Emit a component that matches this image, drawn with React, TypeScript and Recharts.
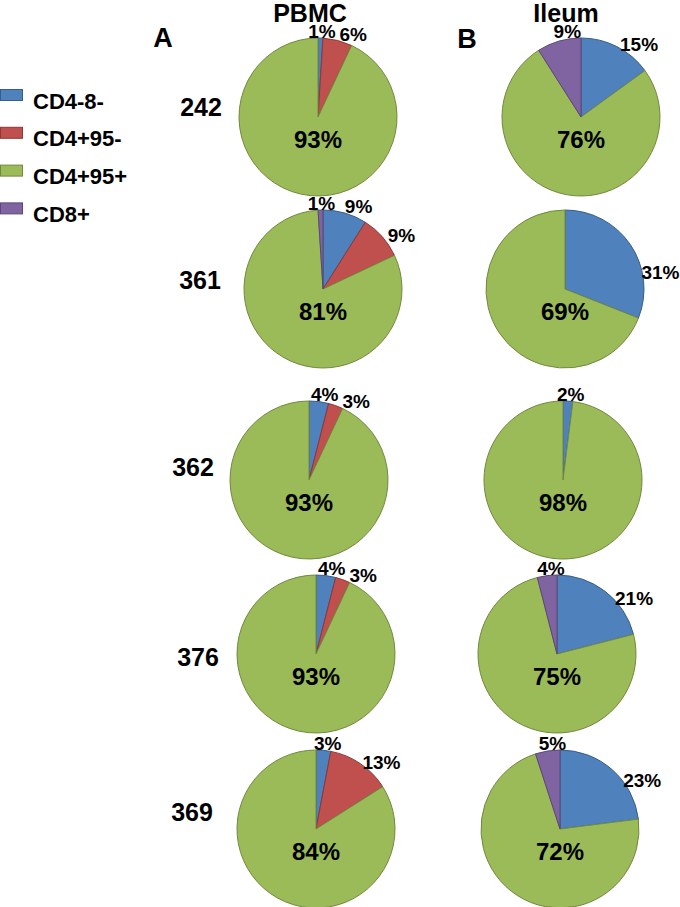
import React from "react";
import { PieChart, Pie, Cell } from "recharts";

const categories = ["CD4-8-", "CD4+95-", "CD4+95+", "CD8+"];
const animals = ["242", "361", "362", "376", "369"];

// PBMC (panel A), percent per animal
const pbmcCd48 = [1, 9, 4, 4, 3];
const pbmcCd4_95neg = [6, 9, 3, 3, 13];
const pbmcCd4_95pos = [93, 81, 93, 93, 84];
const pbmcCd8 = [0, 1, 0, 0, 0];

// Ileum (panel B)
const ileumCd48 = [15, 31, 2, 21, 23];
const ileumCd4_95neg = [0, 0, 0, 0, 0];
const ileumCd4_95pos = [76, 69, 98, 75, 72];
const ileumCd8 = [9, 0, 0, 4, 5];

const fills: Record<string, string> = {
  "CD4-8-": "#4F81BD",
  "CD4+95-": "#C0504D",
  "CD4+95+": "#9BBB59",
  "CD8+": "#8064A2",
};
const borders: Record<string, string> = {
  "CD4-8-": "#385D8A",
  "CD4+95-": "#8C3836",
  "CD4+95+": "#71893F",
  "CD8+": "#5C4776",
};

// layout
const W = 680;
const H = 907;
const R = 79;
const pbmcCx = [318, 323, 309, 316, 316];
const ileumCx = [581, 565, 563, 557, 560];
const rowCy = [117, 289, 480, 654, 829];
const rowLabelX = [201, 200, 193, 198, 192];
const rowLabelY = [107, 280, 467, 657, 812];
const FONT = "'Liberation Sans', Arial, sans-serif";
const LABEL_SIZE = 19;

type Slice = { name: string; value: number };

function sliceData(cols: number[][], row: number): Slice[] {
  return categories
    .map((name, i) => ({ name, value: cols[i][row] }))
    .filter((d) => d.value > 0);
}

const pbmcCols = [pbmcCd48, pbmcCd4_95neg, pbmcCd4_95pos, pbmcCd8];
const ileumCols = [ileumCd48, ileumCd4_95neg, ileumCd4_95pos, ileumCd8];

const textWidth = (v: number) => String(v).length * 10.6 + 16.9;

// outside label spots (relative to pie centre), nudged clockwise so they don't collide
function placeLabels(data: Slice[]) {
  const total = data.reduce((a, d) => a + d.value, 0);
  let cum = 0;
  const items: { name: string; w: number; t: number; x: number; y: number }[] = [];
  data.forEach((d) => {
    const s = (cum / total) * 360;
    cum += d.value;
    const e = (cum / total) * 360;
    if (d.name === "CD4+95+") return;
    let t = s + 0.72 * (e - s);
    if (t > 270) t -= 360;
    items.push({ name: d.name, w: textWidth(d.value), t, x: 0, y: 0 });
  });
  items.sort((a, b) => a.t - b.t);
  const pos = (t: number) => {
    const r = (t * Math.PI) / 180;
    const dist = R + 6 + 12 * Math.abs(Math.sin(r));
    return { x: dist * Math.sin(r), y: -dist * Math.cos(r) };
  };
  items.forEach((it, i) => {
    let p = pos(it.t);
    if (i > 0) {
      const prev = items[i - 1];
      let n = 0;
      while (
        Math.abs(p.x - prev.x) < (it.w + prev.w) / 2 + 3 &&
        Math.abs(p.y - prev.y) < 18 &&
        n < 90
      ) {
        it.t += 1;
        p = pos(it.t);
        n++;
      }
    }
    it.x = p.x;
    it.y = p.y;
  });
  const map: Record<string, { x: number; y: number }> = {};
  items.forEach((it) => (map[it.name] = { x: it.x, y: it.y }));
  return map;
}

const makeLabel = (spots: Record<string, { x: number; y: number }>) => (props: any) => {
  const { cx, cy, value } = props;
  const name = props.name ?? props.payload?.name;
  const common = {
    textAnchor: "middle" as const,
    dominantBaseline: "central" as const,
    fontWeight: "bold",
    fontFamily: FONT,
    fill: "#000",
  };
  if (name === "CD4+95+") {
    return (
      <text x={cx} y={cy + 22} fontSize={24} {...common}>
        {value}%
      </text>
    );
  }
  const sp = spots[name];
  if (!sp) return null;
  return (
    <text x={cx + sp.x} y={cy + sp.y} fontSize={LABEL_SIZE} {...common}>
      {value}%
    </text>
  );
};

function renderPie(key: string, data: Slice[], cx: number, cy: number) {
  const spots = placeLabels(data);
  return (
    <Pie
      key={key}
      data={data}
      dataKey="value"
      nameKey="name"
      cx={cx}
      cy={cy}
      outerRadius={R}
      startAngle={90}
      endAngle={-270}
      labelLine={false}
      label={makeLabel(spots)}
      isAnimationActive={false}
    >
      {data.map((d) => (
        <Cell key={d.name} fill={fills[d.name]} stroke={borders[d.name]} strokeWidth={1} />
      ))}
    </Pie>
  );
}

export default function App() {
  return (
    <div style={{ position: "absolute", left: 0, top: 0, width: W, height: H, background: "#fff" }}>
      <PieChart width={W} height={H} margin={{ top: 0, right: 0, bottom: 0, left: 0 }}>
        {animals.map((a, i) => renderPie("p" + a, sliceData(pbmcCols, i), pbmcCx[i], rowCy[i]))}
        {animals.map((a, i) => renderPie("i" + a, sliceData(ileumCols, i), ileumCx[i], rowCy[i]))}
      </PieChart>
      <svg
        width={W}
        height={H}
        style={{ position: "absolute", left: 0, top: 0, pointerEvents: "none" }}
        fontFamily={FONT}
        fontWeight="bold"
      >
        <text x={310} y={22} textAnchor="middle" fontSize={25}>
          PBMC
        </text>
        <text x={566} y={22} textAnchor="middle" fontSize={25}>
          Ileum
        </text>
        <text x={163} y={38} textAnchor="middle" dominantBaseline="central" fontSize={27}>
          A
        </text>
        <text x={467} y={39} textAnchor="middle" dominantBaseline="central" fontSize={27}>
          B
        </text>
        {animals.map((a, i) => (
          <text
            key={a}
            x={rowLabelX[i]}
            y={rowLabelY[i]}
            textAnchor="middle"
            dominantBaseline="central"
            fontSize={25}
          >
            {a}
          </text>
        ))}
        {categories.map((c, i) => (
          <g key={c}>
            <rect
              x={0.5}
              y={89.5 + i * 37.8}
              width={22}
              height={11}
              fill={fills[c]}
              stroke={borders[c]}
              strokeWidth={1}
            />
            <text x={33} y={101 + i * 37.8} dominantBaseline="central" fontSize={22}>
              {c}
            </text>
          </g>
        ))}
      </svg>
    </div>
  );
}
